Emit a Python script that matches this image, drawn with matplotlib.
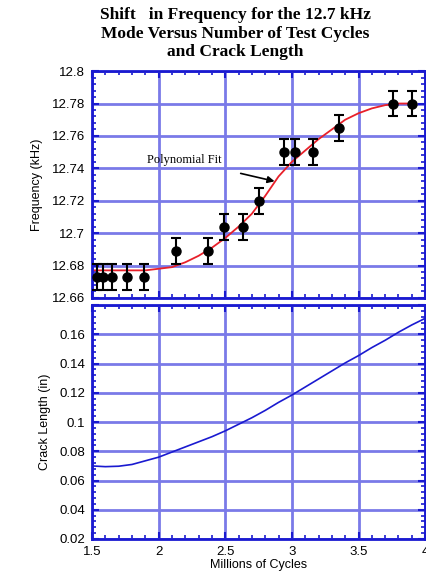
import numpy as np
import matplotlib
matplotlib.use("Agg")
import matplotlib.pyplot as plt
from matplotlib.ticker import MultipleLocator, FormatStrFormatter

# measured frequency points (millions of cycles, kHz)
cycles = [1.54, 1.58, 1.65, 1.76, 1.89, 2.13, 2.37, 2.49, 2.63, 2.75,
          2.94, 3.02, 3.16, 3.35, 3.76, 3.90]
freq = [12.673, 12.673, 12.673, 12.673, 12.673, 12.689, 12.689, 12.704, 12.704, 12.72,
        12.75, 12.75, 12.75, 12.765, 12.78, 12.78]
freq_err = [0.008] * len(cycles)

# polynomial fit curve
fit_x = [1.5, 1.6, 1.7, 1.8, 1.9, 2.0, 2.1, 2.2, 2.3, 2.4, 2.5, 2.6, 2.7, 2.8,
         2.9, 3.0, 3.1, 3.2, 3.3, 3.4, 3.5, 3.6, 3.7, 3.8, 3.9]
fit_y = [12.677, 12.677, 12.677, 12.677, 12.677, 12.678, 12.679, 12.682, 12.686,
         12.691, 12.697, 12.704, 12.712, 12.723, 12.735, 12.744, 12.751, 12.758,
         12.764, 12.770, 12.774, 12.777, 12.779, 12.780, 12.780]

# crack length curve
crack_x = [1.5, 1.6, 1.7, 1.8, 1.9, 2.0, 2.1, 2.2, 2.3, 2.4, 2.5, 2.6, 2.7, 2.8,
           2.9, 3.0, 3.1, 3.2, 3.3, 3.4, 3.5, 3.6, 3.7, 3.8, 3.9, 4.0]
crack_len = [0.0700, 0.0695, 0.0698, 0.0710, 0.0735, 0.0760, 0.0795, 0.0830, 0.0865,
             0.0900, 0.0940, 0.0985, 0.1030, 0.1080, 0.1135, 0.1185, 0.1240, 0.1295,
             0.1350, 0.1405, 0.1455, 0.1510, 0.1560, 0.1615, 0.1665, 0.1710]

blue = "#1a1ad0"
grid_blue = "#7a7ae8"

plt.rcParams['font.family'] = ['Liberation Sans', 'DejaVu Sans']

fig = plt.figure(figsize=(4.26, 5.83), dpi=100)
ax1 = fig.add_axes([0.216, 0.489, 0.782, 0.389])
ax2 = fig.add_axes([0.216, 0.0755, 0.782, 0.401])


def style(ax):
    for s in ax.spines.values():
        s.set_color(blue)
        s.set_linewidth(2)
    ax.grid(True, which='major', color=grid_blue, linewidth=2)
    ax.set_axisbelow(True)
    ax.xaxis.set_major_locator(MultipleLocator(0.5))
    ax.xaxis.set_minor_locator(MultipleLocator(0.1))
    ax.tick_params(which='both', direction='in', top=True, right=True, color=blue,
                   labelsize=9.5, pad=5)
    ax.tick_params(which='major', length=5, width=1.5)
    ax.tick_params(which='minor', length=3, width=1.2)


# top panel: frequency
style(ax1)
ax1.plot(fit_x, fit_y, color='#e8202a', linewidth=1.3, zorder=2)
ax1.errorbar(cycles, freq, yerr=freq_err, fmt='o', color='black', markersize=6.5,
             elinewidth=1.5, capsize=3.5, capthick=1.5, zorder=3)
ax1.set_xlim(1.5, 4)
ax1.set_ylim(12.66, 12.8)
ax1.yaxis.set_major_locator(MultipleLocator(0.02))
ax1.yaxis.set_minor_locator(MultipleLocator(0.004))
ax1.yaxis.set_major_formatter(FormatStrFormatter('%g'))
ax1.tick_params(labelbottom=False)
ax1.set_ylabel('Frequency (kHz)', fontsize=9, labelpad=6)
ax1.annotate('Polynomial Fit', xy=(2.87, 12.732), xytext=(2.19, 12.745),
             fontsize=9, family='Liberation Serif', ha='center', va='center',
             arrowprops=dict(arrowstyle='-|>', color='black', lw=1.2,
                             shrinkA=14, shrinkB=0, mutation_scale=10))

# bottom panel: crack length
style(ax2)
ax2.plot(crack_x, crack_len, color=blue, linewidth=1.2)
ax2.set_xlim(1.5, 4)
ax2.set_ylim(0.02, 0.18)
ax2.yaxis.set_minor_locator(MultipleLocator(0.004))
ax2.set_yticks([0.02, 0.04, 0.06, 0.08, 0.1, 0.12, 0.14, 0.16, 0.18])
ax2.set_yticklabels(['0.02', '0.04', '0.06', '0.08', '0.1', '0.12', '0.14', '0.16', ''])
ax2.set_xticks([1.5, 2, 2.5, 3, 3.5, 4])
ax2.set_xticklabels(['1.5', '2', '2.5', '3', '3.5', '4'])
ax2.set_ylabel('Crack Length (in)', fontsize=9, labelpad=6)
ax2.set_xlabel('Millions of Cycles', fontsize=9, labelpad=1)

fig.text(0.552, 0.988, 'Shift   in Frequency for the 12.7 kHz\nMode Versus Number of Test Cycles\nand Crack Length',
         ha='center', va='top', fontsize=12.5, fontweight='bold',
         family='Liberation Serif', linespacing=1.22)

fig.savefig('out.png', dpi=100)
